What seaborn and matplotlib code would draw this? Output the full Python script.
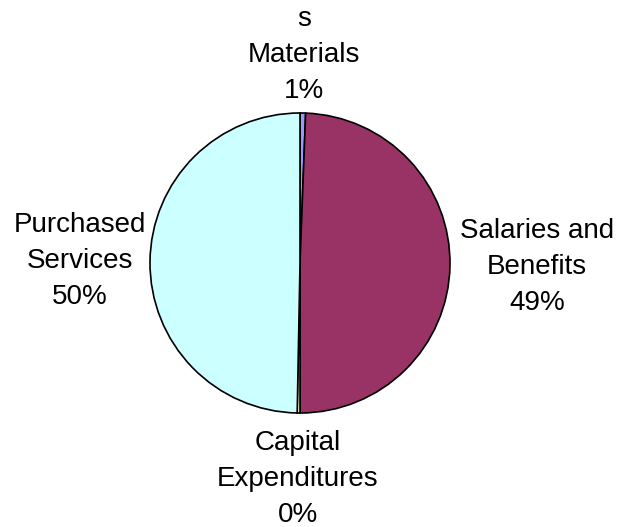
import matplotlib
matplotlib.use("Agg")
import matplotlib.pyplot as plt
import seaborn as sns

# Budget breakdown (share of total, %)
categories = ["Supplie\ns\nMaterials", "Salaries and\nBenefits", "Capital\nExpenditures", "Purchased\nServices"]
shares = [0.6, 49.4, 0.3, 49.7]
shown_pct = ["1%", "49%", "0%", "50%"]
colors = ["#9999FF", "#993366", "#FFFFCC", "#CCFFFF"]
label_dist = [1.51, 1.58, 1.44, 1.47]

sns.set_theme(style="white")
plt.rcParams['font.family'] = ['Liberation Sans', 'DejaVu Sans']

fig = plt.figure(figsize=(6.18, 5.27), dpi=100)
ax = fig.add_axes([0, 0, 1, 1])

labels = [f"{c}\n{p}" for c, p in zip(categories, shown_pct)]
wedges, texts = ax.pie(shares, labels=labels, colors=sns.color_palette(colors),
                       startangle=90, counterclock=False, labeldistance=1.0,
                       wedgeprops={"edgecolor": "black", "linewidth": 1.2},
                       textprops={"fontsize": 20, "color": "black", "linespacing": 1.5})
for t, d in zip(texts, label_dist):
    x, y = t.get_position()
    t.set_position((x * d, y * d))
    t.set_ha("center")
    t.set_va("center")

# pie centre at (300, 263) px, radius 150 px
ax.set_aspect("auto")
ax.set_xlim(-300 / 150, (618 - 300) / 150)
ax.set_ylim(-(527 - 263) / 150, 263 / 150)
ax.axis("off")

fig.savefig("out.png", dpi=100)
